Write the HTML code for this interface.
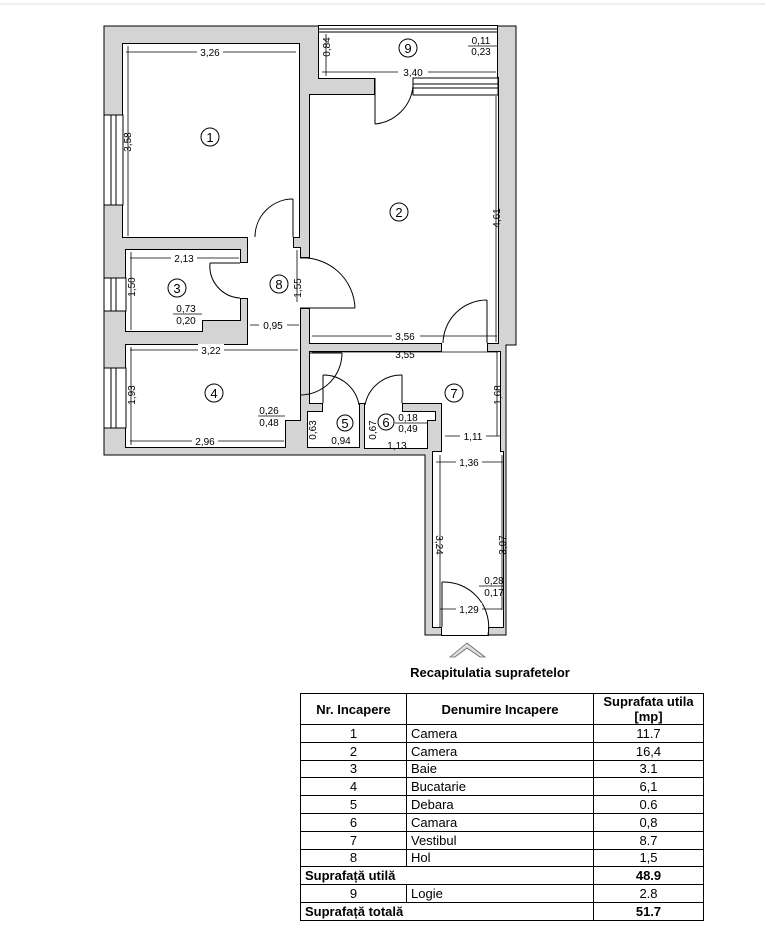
<!DOCTYPE html>
<html><head><meta charset="utf-8"><style>
html,body{margin:0;padding:0;background:#fff;}
body{width:765px;height:925px;position:relative;overflow:hidden;font-family:"Liberation Sans",Arial,sans-serif;}
svg{position:absolute;left:0;top:0;}
table{position:absolute;left:300px;top:693px;width:404px;border-collapse:collapse;font-size:13px;}
td{border:1px solid #000;padding:0 4px;height:16.8px;line-height:15px;}
.c{text-align:center}
.b{font-weight:bold}
.title{position:absolute;left:380px;width:220px;top:665px;text-align:center;font-weight:bold;font-size:13px;}
</style></head><body>
<svg width="765" height="925" viewBox="0 0 765 925" font-family="Liberation Sans, Arial, sans-serif" font-size="10">
<line x1="0" y1="4" x2="765" y2="4" stroke="#ddd"/>
<!-- footprint -->
<polygon points="104,26 516,26 516,345 506,345 506,635 425,635 425,455 104,455" fill="#d4d4d4" stroke="#000" stroke-width="1"/>
<!-- rooms: stroke pass -->
<g fill="#fff" stroke="#000" stroke-width="2">
<rect x="123" y="44" width="176" height="193"/>
<rect x="319" y="26" width="178" height="52"/>
<rect x="310" y="95" width="188" height="248"/>
<rect x="375" y="78" width="123" height="17"/>
<polygon points="126,250 240,250 240,320 202,320 202,331 126,331"/>
<rect x="248" y="237" width="45" height="108"/>
<rect x="293" y="248" width="7" height="102"/>
<rect x="240" y="263" width="8" height="35"/>
<rect x="300" y="258" width="10" height="50"/>
<polygon points="126,345 300,345 300,420 285,420 285,447 126,447"/>
<rect x="310" y="352" width="190" height="51"/>
<rect x="442" y="343" width="45" height="9"/>
<rect x="323" y="375" width="36" height="37"/>
<rect x="308" y="412" width="51" height="35"/>
<polygon points="365,403 402,403 402,412 435,412 435,420 427,420 427,448 365,448"/>
<rect x="442" y="403" width="58" height="49"/>
<rect x="433" y="452" width="70" height="175"/>
<rect x="442" y="627" width="46" height="8"/>
</g>
<g fill="#fff" stroke="none">
<rect x="123" y="44" width="176" height="193"/>
<rect x="319" y="26" width="178" height="52"/>
<rect x="310" y="95" width="188" height="248"/>
<rect x="375" y="78" width="123" height="17"/>
<polygon points="126,250 240,250 240,320 202,320 202,331 126,331"/>
<rect x="248" y="237" width="45" height="108"/>
<rect x="293" y="248" width="7" height="102"/>
<rect x="240" y="263" width="8" height="35"/>
<rect x="300" y="258" width="10" height="50"/>
<polygon points="126,345 300,345 300,420 285,420 285,447 126,447"/>
<rect x="310" y="352" width="190" height="51"/>
<rect x="442" y="343" width="45" height="9"/>
<rect x="323" y="375" width="36" height="37"/>
<rect x="308" y="412" width="51" height="35"/>
<polygon points="365,403 402,403 402,412 435,412 435,420 427,420 427,448 365,448"/>
<rect x="442" y="403" width="58" height="49"/>
<rect x="433" y="452" width="70" height="175"/>
<rect x="442" y="627" width="46" height="8"/>
</g>
<!-- windows -->
<g fill="#fff" stroke="#000" stroke-width="1">
<rect x="104" y="115" width="19" height="90"/><line x1="111" y1="115" x2="111" y2="205"/><line x1="116" y1="115" x2="116" y2="205"/>
<rect x="104" y="278" width="22" height="33"/><line x1="111" y1="278" x2="111" y2="311"/><line x1="116" y1="278" x2="116" y2="311"/>
<rect x="104" y="368" width="22" height="60"/><line x1="111" y1="368" x2="111" y2="428"/><line x1="116" y1="368" x2="116" y2="428"/>
<rect x="413" y="78" width="85" height="17"/><line x1="413" y1="84" x2="498" y2="84"/><line x1="413" y1="88" x2="498" y2="88"/>
<line x1="319" y1="29" x2="497" y2="29"/><line x1="319" y1="32" x2="497" y2="32"/>
</g>
<!-- doors -->
<g fill="none" stroke="#000" stroke-width="1">
<line x1="293" y1="199" x2="293" y2="237"/><path d="M293,199 A38,38 0 0 0 255,237"/>
<line x1="210" y1="263" x2="240" y2="263"/><path d="M210,263 A32,32 0 0 0 240,298"/>
<line x1="300" y1="308" x2="355" y2="308"/><path d="M355,308 A52,52 0 0 0 300,258"/>
<line x1="487" y1="300" x2="487" y2="343"/><path d="M487,300 A44,44 0 0 0 443,343"/>
<line x1="375" y1="78" x2="375" y2="124"/><path d="M375,124 A42,42 0 0 0 413,86"/>
<line x1="310" y1="353" x2="342" y2="353"/><path d="M342,353 A42,42 0 0 1 300,395"/>
<line x1="323" y1="375" x2="323" y2="403"/><path d="M323,375 A36,36 0 0 1 359,405"/>
<line x1="402" y1="375" x2="402" y2="403"/><path d="M402,375 A37,37 0 0 0 365,405"/>
<line x1="442" y1="582" x2="442" y2="627"/><path d="M442,582 A45,45 0 0 1 488,635"/>
</g>
<!-- dimension lines -->
<g stroke="#000" stroke-width="0.8">
<line x1="126" y1="52" x2="296" y2="52"/><line x1="128" y1="46" x2="128" y2="236"/>
<line x1="326" y1="34" x2="326" y2="76"/><line x1="322" y1="72" x2="496" y2="72"/>
<line x1="496" y1="96" x2="496" y2="342"/>
<line x1="130" y1="258" x2="239" y2="258"/><line x1="131" y1="252" x2="131" y2="330"/>
<line x1="297" y1="250" x2="297" y2="302"/><line x1="250" y1="325" x2="299" y2="325"/>
<line x1="312" y1="336" x2="497" y2="336"/>
<line x1="130" y1="350" x2="298" y2="350"/><line x1="312" y1="352" x2="498" y2="352"/>
<line x1="131" y1="347" x2="131" y2="445"/><line x1="130" y1="441" x2="284" y2="441"/>
<line x1="497" y1="352" x2="497" y2="436"/><line x1="445" y1="436" x2="500" y2="436"/>
<line x1="436" y1="462" x2="503" y2="462"/>
<line x1="440" y1="455" x2="440" y2="627"/><line x1="502" y1="455" x2="502" y2="610"/>
<line x1="440" y1="609" x2="502" y2="609"/>
<line x1="173" y1="314" x2="202" y2="314"/><line x1="258" y1="416" x2="285" y2="416"/>
<line x1="395" y1="423" x2="427" y2="423"/><line x1="468" y1="46" x2="497" y2="46"/><line x1="479" y1="586" x2="503" y2="586"/>
</g>
<g fill="#000" text-anchor="middle">
<g fill="#fff"><rect x="197" y="46" width="26" height="11"/><rect x="398" y="66" width="30" height="11"/><rect x="171" y="252" width="26" height="11"/><rect x="259" y="319" width="28" height="11"/><rect x="392" y="330" width="28" height="11"/><rect x="198" y="344" width="26" height="11"/><rect x="192" y="435" width="26" height="11"/><rect x="460" y="430" width="26" height="11"/><rect x="456" y="456" width="26" height="11"/><rect x="456" y="603" width="26" height="11"/></g>
<text x="210" y="56">3,26</text><text x="413" y="76">3,40</text><text x="184" y="262">2,13</text>
<text x="273" y="329">0,95</text><text x="405" y="340">3,56</text><text x="211" y="354">3,22</text>
<text x="405" y="358">3,55</text><text x="205" y="445">2,96</text><text x="473" y="440">1,11</text>
<text x="469" y="466">1,36</text><text x="469" y="613">1,29</text>
<text x="341" y="444">0,94</text><text x="397" y="449">1,13</text>
<text x="186" y="312">0,73</text><text x="186" y="324">0,20</text>
<text x="269" y="414">0,26</text><text x="269" y="426">0,48</text>
<text x="408" y="421">0,18</text><text x="408" y="432">0,49</text>
<text x="481" y="44">0,11</text><text x="481" y="55">0,23</text>
<text x="494" y="584">0,28</text><text x="494" y="596">0,17</text>
<text transform="translate(131,142) rotate(-90)">3,58</text>
<text transform="translate(330,47) rotate(-90)">0,84</text>
<text transform="translate(500,218) rotate(-90)">4,61</text>
<text transform="translate(135,287) rotate(-90)">1,50</text>
<text transform="translate(301,288) rotate(-90)">1,55</text>
<text transform="translate(135,395) rotate(-90)">1,93</text>
<text transform="translate(501,395) rotate(-90)">1,68</text>
<text transform="translate(316,430) rotate(-90)">0,63</text>
<text transform="translate(376,430) rotate(-90)">0,67</text>
<text transform="translate(436,545) rotate(90)">3,24</text>
<text transform="translate(506,545) rotate(-90)">3,07</text>
</g>
<g fill="#fff" stroke="#000" stroke-width="1">
<circle cx="210" cy="137" r="9"/><circle cx="399" cy="212" r="9"/><circle cx="177" cy="288" r="9"/>
<circle cx="279" cy="284" r="9"/><circle cx="214" cy="393" r="9"/><circle cx="345" cy="423" r="8"/>
<circle cx="386" cy="422" r="8"/><circle cx="454" cy="393" r="9"/><circle cx="408" cy="48" r="9"/>
</g>
<g font-size="13" text-anchor="middle" fill="#000">
<text x="210" y="142">1</text><text x="399" y="217">2</text><text x="177" y="293">3</text><text x="279" y="289">8</text>
<text x="214" y="398">4</text><text x="345" y="428">5</text><text x="386" y="427">6</text><text x="454" y="398">7</text><text x="408" y="53">9</text>
</g>
<polygon points="450,657 467,643 485,657 480,657 467,648 455,657" fill="#ddd" stroke="#666" stroke-width="0.8"/>
</svg>
<div class="title">Recapitulatia suprafetelor</div>
<table>
<tr><td class="c b" style="height:30px">Nr. Incapere</td><td class="c b">Denumire Incapere</td><td class="c b">Suprafata utila<br>[mp]</td></tr>
<tr><td class="c" style="width:97px">1</td><td style="width:178px">Camera</td><td class="c">11.7</td></tr>
<tr><td class="c">2</td><td>Camera</td><td class="c">16,4</td></tr>
<tr><td class="c">3</td><td>Baie</td><td class="c">3.1</td></tr>
<tr><td class="c">4</td><td>Bucatarie</td><td class="c">6,1</td></tr>
<tr><td class="c">5</td><td>Debara</td><td class="c">0.6</td></tr>
<tr><td class="c">6</td><td>Camara</td><td class="c">0,8</td></tr>
<tr><td class="c">7</td><td>Vestibul</td><td class="c">8.7</td></tr>
<tr><td class="c">8</td><td>Hol</td><td class="c">1,5</td></tr>
<tr><td class="b" colspan="2">Suprafață utilă</td><td class="c b">48.9</td></tr>
<tr><td class="c">9</td><td>Logie</td><td class="c">2.8</td></tr>
<tr><td class="b" colspan="2">Suprafață totală</td><td class="c b">51.7</td></tr>
</table>
</body></html>
